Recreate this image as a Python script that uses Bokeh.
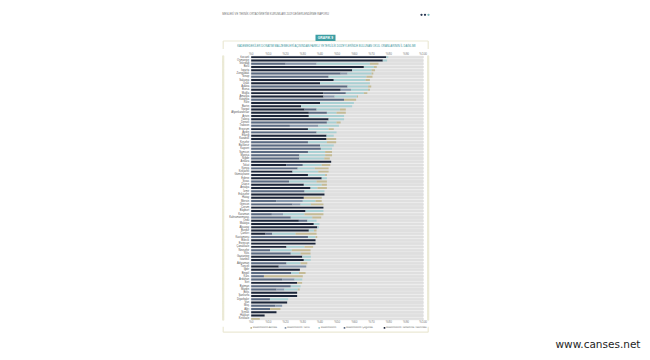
from bokeh.plotting import figure
from bokeh.layouts import column
from bokeh.models import FactorRange, Range1d, FixedTicker, ColumnDataSource, LinearAxis
from bokeh.core.properties import value
from bokeh.embed import file_html
from bokeh.resources import INLINE

provinces = ["Kocaeli", "Osmaniye", "Tekirdağ", "Bolu", "Isparta", "Zonguldak", "Sinop", "Sakarya",
             "Uşak", "Adana", "Bursa", "Muğla", "Amasya", "Kütahya", "Rize", "Bartın", "Yozgat",
             "Afyonkarahisar", "Artvin", "Yalova", "Denizli", "Trabzon", "Erzurum", "Aydın", "Elazığ",
             "Karabük", "Kırşehir", "Balıkesir", "Kayseri", "Samsun", "Manisa", "Niğde", "Ankara",
             "Tokat", "Konya", "Kırklareli", "Gümüşhane", "Edirne", "Sivas", "Düzce", "Antalya",
             "İzmir", "Eskişehir", "Hatay", "Mersin", "Giresun", "Çorum", "Bayburt", "Karaman",
             "Kahramanmaraş", "Ordu", "Malatya", "Aksaray", "Burdur", "Çankırı", "Kastamonu",
             "Bilecik", "Erzincan", "Çanakkale", "Nevşehir", "Kilis", "Gaziantep", "İstanbul",
             "Adıyaman", "Tunceli", "Iğdır", "Bingöl", "Kars", "Ardahan", "Siirt", "Batman",
             "Mardin", "Bitlis", "Şanlıurfa", "Diyarbakır", "Van", "Muş", "Ağrı", "Şırnak",
             "Hakkari", "Kırıkkale"]

navy = [78.5, 76.5, 0, 65.5, 58.7, 0, 0, 48, 40, 0, 52, 42, 42, 0, 40, 29, 31, 33.5, 33.5, 45,
        0, 0, 33, 0, 43.8, 43.8, 0, 0, 0, 0, 0, 0, 46.5, 20.5, 0, 24, 33, 41, 0, 30.6, 34.5,
        0, 42.6, 30.6, 0, 0, 42, 31.6, 0, 0, 27.7, 36.4, 38.4, 33.5, 8.3, 0, 37.4, 37.4, 20.5,
        0, 0, 29.7, 30.6, 0, 16, 28.3, 0, 0, 0, 26.7, 0, 0, 26.7, 26.7, 0, 20.9, 0, 0, 14.7,
        7.8, 0]
slate = [0, 0, 20, 0, 0, 52, 45, 0, 0, 56, 0, 13, 0, 54, 0, 0, 7, 10.5, 0, 0,
         44, 22.5, 0, 38, 0, 0, 33, 40, 40.5, 33, 28, 28, 0, 9.5, 27, 0, 0, 0, 22, 0, 0,
         31, 0, 0, 14.7, 24, 0, 0, 12, 23, 5, 0, 0, 0, 3.9, 33, 0, 0, 0,
         11, 23, 0, 0, 20.5, 0, 0, 23.3, 7.4, 18, 0, 23, 14.7, 0, 0, 10.9, 0, 14, 11, 0,
         0, 0]
greyblue = [0, 0, 18, 0, 0, 4, 0, 0, 0, 0, 6, 0, 6.5, 0, 0, 0, 0, 0, 0, 0,
            0, 16.5, 0, 0, 0, 0, 0, 0, 0, 0, 0, 0, 0, 0, 0, 0, 0, 0, 0, 0, 0,
            0, 0, 0, 15.3, 4.7, 0, 0, 6.5, 0, 0, 0, 0, 0, 0, 0, 0, 0, 0,
            0, 0, 0, 0, 0, 16, 0, 0, 0, 7.2, 0, 0, 4.6, 0, 0, 0, 0, 4, 0, 0,
            0, 0]
teal = [1.2, 2.5, 31, 5.8, 11.3, 14, 22, 18.5, 29, 12, 10, 10.5, 13, 0, 19.7, 29.7, 13.6, 5.6, 20.5, 9,
        5.6, 12, 12, 11.6, 4.2, 0, 11, 8, 6.5, 10, 15, 14.5, 0, 11, 10, 15, 10, 3, 16, 10.4, 4,
        11.6, 0, 0, 7.4, 6, 0, 10.4, 12.5, 12.5, 5.3, 3.3, 1, 3, 13.6, 4.4, 0, 0, 10.5,
        12.6, 5.7, 5, 4, 8.2, 0, 0, 4.5, 0, 4.5, 0, 5.7, 7.8, 0, 0, 10.6, 0, 0, 0, 0,
        0, 0]
khaki = [0, 0, 5, 1.7, 2, 1, 3.5, 2.5, 0, 1.8, 1, 2, 0.6, 7, 0, 0, 3.4, 5.4, 0, 0,
         2.4, 0, 3, 0, 0, 5.6, 5.4, 0, 0, 4, 4, 3.2, 0, 5, 8, 6, 1, 0, 6, 3, 5.5,
         0, 0, 10.4, 3.6, 7.3, 0, 0, 11, 5.2, 0, 0, 0, 1.5, 12.2, 1, 0, 0, 5,
         10.9, 5.8, 0, 0, 3.9, 0, 0, 3.8, 22.6, 0, 2.9, 0, 1.1, 0, 0, 0, 0, 0, 6, 0,
         0, 5]

ticks = [0, 10, 20, 30, 40, 50, 60, 70, 80, 90, 100]
tick_labels = {t: "%" + str(t) for t in ticks}

legend_labels = ["Malzemelerin Azında", "Malzemelerin Yarısı", "Malzemelerin",
                 "Malzemelerin Çoğunda", "Malzemelerin Tamamına Yakınında"]

header_text = "MESLEKİ VE TEKNİK ORTAÖĞRETİM KURUMLARI 2019 DEĞERLENDİRME RAPORU"
badge_text = "GRAFİK 9"
title_text = ("KADEMEDEKİLER DONATIM MALZEMELERİ AÇISINDAN FARKLI YETERLİLİK DÜZEYLERİNDE "
              "BULUNAN OKUL ORANLARININ İL DAĞILIMI")
watermark = "www.canses.net"

series = ["navy", "slate", "greyblue", "teal", "khaki"]
colors = ["#1c263a", "#5a6a82", "#8596ab", "#a9d0d3", "#c4bb96"]
legend_colors = ["#c4bb96", "#8596ab", "#a9d0d3", "#5a6a82", "#1c263a"]

W = 650
FONT = value("Liberation Sans")
BOX_COL = "#ebe9d5"
BOX_W = 1.2
BOX_L, BOX_R = 222.7, 427.7

# ---------------- top strip (page header, badge, title) ----------------
TOP_H = 49
top = figure(width=W, height=TOP_H, x_range=Range1d(0, W), y_range=Range1d(TOP_H, 0),
             x_axis_type=None, y_axis_type=None, output_backend="svg", toolbar_location=None,
             min_border=0, min_border_left=0, min_border_right=0, min_border_top=0,
             min_border_bottom=0, outline_line_color=None)
top.grid.visible = False
top.text(x=[221.7], y=[14.3], text=[header_text], text_font=FONT, text_font_size="2.7px",
         text_color="#6e6e6e", text_baseline="middle", text_align="left")
top.scatter(x=[421, 424.5, 428], y=[14.3, 14.3, 14.3], size=2.3,
            color=["#2b3a55", "#2b3a55", "#7cb8bc"], line_color=None)
top.segment(x0=[BOX_L, BOX_L, BOX_R], y0=[40.5, 40.5, 40.5], x1=[BOX_R, BOX_L, BOX_R],
            y1=[40.5, TOP_H, TOP_H], line_color=BOX_COL, line_width=BOX_W)
top.quad(left=[315], right=[335], top=[34.3], bottom=[40.5], fill_color="#3d9ea3",
         line_color=None)
top.text(x=[325], y=[37.5], text=[badge_text], text_font=FONT, text_font_size="3.3px",
         text_font_style="bold", text_color="white", text_baseline="middle", text_align="center")
top.text(x=[326], y=[45.7], text=[title_text], text_font=FONT, text_font_size="2.75px",
         text_color="#3a959b", text_baseline="middle", text_align="center")

# ---------------- chart ----------------
FT, FH = 5, 266            # frame top border and height
MID_H = 277
PX0, PX100 = 250.7, 422.7  # pixel positions of 0% and 100%
k = (PX100 - PX0) / 100.0
xr = Range1d((0 - PX0) / k, (W - PX0) / k)   # frame spans the full width
side_l, side_r = (BOX_L - PX0) / k, (BOX_R - PX0) / k
half = BOX_W / 2 / k

source = ColumnDataSource(dict(name=provinces, full=[100] * len(provinces), navy=navy,
                               slate=slate, greyblue=greyblue, teal=teal, khaki=khaki))

p = figure(width=W, height=MID_H, y_range=FactorRange(factors=provinces[::-1]),
           x_range=xr, x_axis_location="above", y_axis_location=None,
           output_backend="svg", toolbar_location=None,
           min_border=0, min_border_left=0, min_border_right=0,
           min_border_top=FT, min_border_bottom=MID_H - FT - FH,
           outline_line_color=None)

p.hbar(y="name", left=0, right="full", height=0.6, color="#dfdfdf", source=source)
p.hbar_stack(series, y="name", height=0.6, color=colors, line_color=None, source=source)
p.text(x=-1.2, y="name", text="name", source=source, text_align="right",
       text_baseline="middle", text_font=FONT, text_font_size="2.7px", text_color="#555555")
# box side borders through the chart part
p.hbar(y="name", left=side_l - half, right=side_l + half, height=1.0, color=BOX_COL,
       source=source)
p.hbar(y="name", left=side_r - half, right=side_r + half, height=1.0, color=BOX_COL,
       source=source)

p.add_layout(LinearAxis(), "below")
for ax in p.xaxis:
    ax.ticker = FixedTicker(ticks=ticks)
    ax.major_label_overrides = tick_labels
    ax.major_label_text_font_size = "3px"
    ax.major_label_text_color = "#777777"
    ax.major_label_text_font = "Liberation Sans"
    ax.axis_line_color = None
    ax.major_tick_line_color = None
    ax.minor_tick_line_color = None
    ax.major_tick_out = 0
    ax.major_tick_in = 0
    ax.major_label_standoff = 0
p.xgrid.grid_line_color = None
p.ygrid.grid_line_color = None

# ---------------- bottom strip (legend, box bottom, watermark) ----------------
BOT_Y0 = TOP_H + MID_H
BOT_H = 360 - BOT_Y0
bot = figure(width=W, height=BOT_H, x_range=Range1d(0, W), y_range=Range1d(360, BOT_Y0),
             x_axis_type=None, y_axis_type=None, output_backend="svg", toolbar_location=None,
             min_border=0, min_border_left=0, min_border_right=0, min_border_top=0,
             min_border_bottom=0, outline_line_color=None)
bot.grid.visible = False
bot.segment(x0=[BOX_L, BOX_L, BOX_R], y0=[331.7, BOT_Y0, BOT_Y0], x1=[BOX_R, BOX_L, BOX_R],
            y1=[331.7, 331.7, 331.7], line_color=BOX_COL, line_width=BOX_W)
leg_x = [250.7, 285, 318.7, 344, 384]
bot.scatter(x=leg_x, y=[327.4] * 5, marker="square", size=1.6, color=legend_colors,
            line_color=None)
bot.text(x=[v + 1.6 for v in leg_x], y=[327.4] * 5, text=legend_labels, text_font=FONT,
         text_font_size="2.6px", text_color="#666666", text_baseline="middle",
         text_align="left")
bot.text(x=[555], y=[343.5], text=[watermark], text_font=value("DejaVu Sans"),
         text_font_size="10.5px", text_color="#1e1e1e", text_baseline="middle",
         text_align="left")

layout = column(top, p, bot, spacing=0)
open("out.html", "w").write(file_html(layout, INLINE))
